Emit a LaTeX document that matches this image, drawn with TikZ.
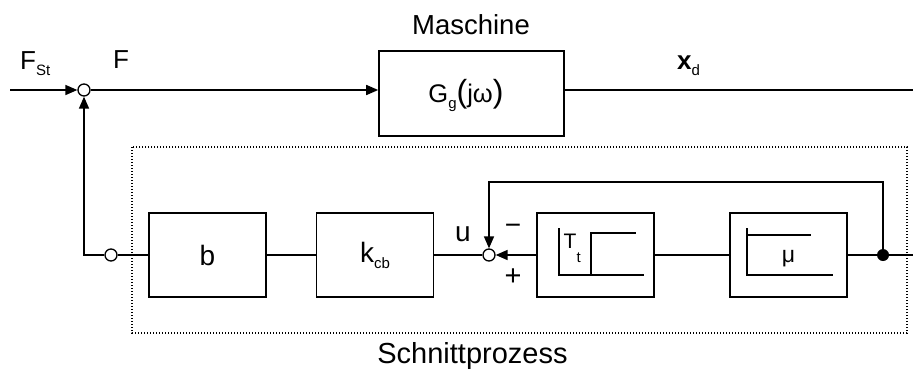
\documentclass[tikz,border=0pt]{standalone}
\usepackage{fontspec}
\setmainfont{Liberation Sans}
\usetikzlibrary{arrows.meta,calc}
\newcommand\subs[2][6pt]{\raisebox{-#1}{\fontsize{15}{15}\selectfont #2}}
\begin{document}
\begin{tikzpicture}[x=1pt,y=-1pt,
  every node/.style={font=\fontsize{26}{30}\selectfont, inner sep=0pt},
  ln/.style={line width=1.6pt},
  arr/.style={ln,-{Triangle[length=12pt,width=10pt]}},
  blk/.style={draw, line width=1.6pt, minimum width=117pt, minimum height=84pt},
  sumc/.style={circle, draw, line width=1.3pt, fill=white, minimum size=12pt},
  dotc/.style={circle, fill=black, minimum size=12pt},
  thin/.style={line width=1.1pt}]
\useasboundingbox (0,0) rectangle (913,376);

% dotted frame
\draw[line width=1.3pt, dash pattern=on 1.4pt off 1.6pt] (132,147) rectangle (907,333);

% top row
\coordinate (in) at (10,90);
\node[sumc] (s1) at (84,90) {};
\node[draw, line width=1.6pt, minimum width=185pt, minimum height=85pt] (G) at (471.5,93.5) {};
\node[anchor=base, font=\fontsize{25.5}{30}\selectfont] (Gt) at (466,102)
  {G\subs{g}{\fontsize{32}{32}\selectfont(}jω{\fontsize{32}{32}\selectfont)}};
\coordinate (out) at (913,90);
\node[anchor=base, font=\fontsize{27.5}{30}\selectfont] (mas) at (471,34) {Maschine};
\node[anchor=base west] (fst) at (20,69) {F\subs{St}};
\node[anchor=base west] (flab) at (113,68) {F};
\node[anchor=base west] (xd) at (677,69) {\textbf{x}\subs{d}};

\draw[arr] (in) -- (s1.west);
\draw[arr] (s1.east) -- (s1 -| G.west);
\draw[ln] (out -| G.east) -- (out);

% bottom row
\node[sumc] (s0) at (111,255) {};
\coordinate (corner) at (84,255);
\node[blk, font=\fontsize{28}{30}\selectfont] (b) at (207.5,255) {b};
\node[blk, font=\fontsize{28}{30}\selectfont] (k) at (375,255) {k\subs{cb}};
\node[sumc] (s2) at (489,255) {};
\node[blk] (T) at (595.5,255) {};
\node[blk] (mu) at (788.5,255) {};
\node[dotc] (dot) at (883,255) {};
\coordinate (rout) at (913,255);
\coordinate (fb) at (489,182);

\node[anchor=base west, font=\fontsize{28}{30}\selectfont] (ulab) at (455,241) {u};
\node[font=\fontsize{28}{30}\selectfont] (minus) at (513,229) {−};
\node[font=\fontsize{29}{30}\selectfont] (plus) at (513,277) {+};

\draw[ln] (b.west) -- (s0.east);
\draw[arr] (s0.west) -- (corner) -- (s1.south);
\draw[ln] (b.east) -- (k.west);
\draw[ln] (k.east) -- (s2.west);
\draw[arr] (T.west) -- (s2.east);
\draw[ln] (T.east) -- (mu.west);
\draw[ln] (mu.east) -- (rout);
\draw[arr] (dot.center) |- (fb) -- (s2.north);

% dead-time plot
\draw[thin] ($(T.center)+(-36.5,-27)$) -- ($(T.center)+(-36.5,20)$) -- ($(T.center)+(48.5,20)$);
\draw[thin] ($(T.center)+(-4.5,20)$) -- ($(T.center)+(-4.5,-22)$) -- ($(T.center)+(40.5,-22)$);
\node[anchor=base west, font=\fontsize{21}{24}\selectfont] (tt) at ($(T.center)+(-32,-7)$) {T\subs[14pt]{t}};

% proportional plot
\draw[thin] ($(mu.center)+(-41.5,-27)$) -- ($(mu.center)+(-41.5,20)$) -- ($(mu.center)+(44.5,20)$);
\draw[thin] ($(mu.center)+(-41.5,-20)$) -- ($(mu.center)+(22.5,-20)$);
\node[anchor=base, font=\fontsize{23}{26}\selectfont] (mut) at ($(mu.center)+(0,7)$) {μ};

\node[anchor=base, font=\fontsize{29}{32}\selectfont] (sp) at (472.5,363) {Schnittprozess};
\end{tikzpicture}
\end{document}
